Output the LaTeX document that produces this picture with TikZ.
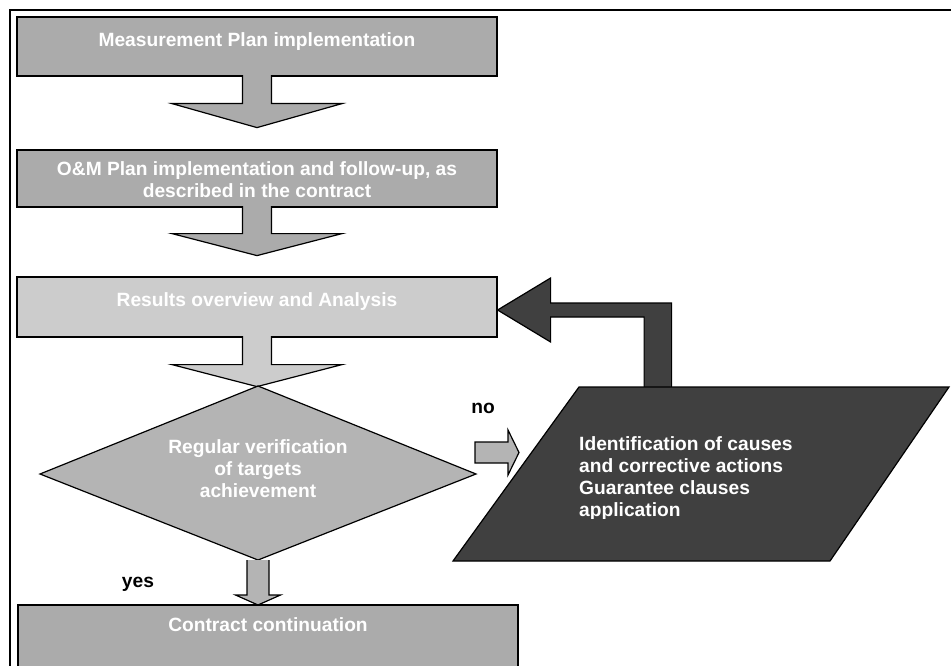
\documentclass[tikz,border=0pt]{standalone}
\usepackage{fontspec}
\setmainfont{Liberation Sans}
\usetikzlibrary{calc}
\definecolor{gA}{HTML}{ABABAB}
\definecolor{gB}{HTML}{CCCCCC}
\definecolor{gC}{HTML}{B4B4B4}
\definecolor{gD}{HTML}{404040}
\begin{document}
\begin{tikzpicture}[x=1pt,y=-1pt,
  outl/.style={draw=black,line width=1.2pt,line join=miter},
  boxA/.style={outl,fill=gA,rectangle,inner sep=0pt},
  boxB/.style={outl,fill=gB,rectangle,inner sep=0pt},
  arrA/.style={outl,fill=gA},
  arrB/.style={outl,fill=gB},
  arrC/.style={outl,fill=gC},
  arrD/.style={outl,fill=gD},
  txt/.style={font=\fontsize{19.2}{22}\selectfont\bfseries,inner sep=0pt},
  wtxt/.style={txt,text=white,align=center,anchor=north},
  btxt/.style={txt,text=black,anchor=base}
]
\useasboundingbox (0,0) rectangle (951,666);
\clip (0,0) rectangle (951,666);
% frame
\coordinate (fTR) at (955,10);
\coordinate (fTL) at (10,10);
\coordinate (fBL) at (10,680);
\draw[line width=1.5pt] (fTR) -- (fTL) -- (fBL);

% boxes
\node[boxA,minimum width=480pt,minimum height=59pt] (b1) at (257,46.5) {};
\node[boxA,minimum width=480pt,minimum height=57pt] (b2) at (257,178.5) {};
\node[boxB,minimum width=480pt,minimum height=60pt] (b3) at (257,307) {};
\node[boxA,minimum width=500pt,minimum height=95pt] (b4) at (268,652.5) {};

% down block arrows
\draw[arrA,shift={(b1.south)}] (-14.5,-1.5) -- (-14.5,27) -- (-85,27) -- (0,51) -- (85,27) -- (14.5,27) -- (14.5,-1.5);
\draw[arrA,shift={(b2.south)}] (-14.5,-1.5) -- (-14.5,26) -- (-85,26) -- (0,48) -- (85,26) -- (14.5,26) -- (14.5,-1.5);
\draw[arrB,shift={(b3.south)}] (-14.5,-1.5) -- (-14.5,27) -- (-85,27) -- (0,49) -- (85,27) -- (14.5,27) -- (14.5,-1.5);

% diamond
\coordinate (dT) at (258,386);
\coordinate (dR) at (476,474);
\coordinate (dB) at (258,560);
\coordinate (dL) at (40,474);
\draw[outl,fill=gC] (dT) -- (dR) -- (dB) -- (dL) -- cycle;

% yes arrow
\draw[arrC,shift={(dB)}] (-11,0) -- (-11,35) -- (-22.5,35) -- (0,45) -- (22.5,35) -- (11,35) -- (11,0);

% no arrow
\coordinate (noS) at (475,452.5);
\draw[arrC,shift={(noS)}] (0,-10.5) -- (33,-10.5) -- (33,-22.5) -- (44,0) -- (33,22.5) -- (33,10.5) -- (0,10.5) -- cycle;

% feedback arrow
\draw[arrD,shift={(b3.east)}] (146.5,81) -- (146.5,10) -- (53,10) -- (53,35) -- (0,3) -- (53,-29) -- (53,-4) -- (174,-4) -- (174,81);

% parallelogram
\coordinate (pTL) at (579,387);
\coordinate (pTR) at (949,387);
\coordinate (pBR) at (830,561);
\coordinate (pBL) at (453,561);
\draw[outl,fill=gD] (pTL) -- (pTR) -- (pBR) -- (pBL) -- cycle;

% texts
\node[wtxt] (t1) at (257,30.6) {\strut Measurement Plan implementation};
\node[wtxt] (t2) at (257,159.6) {\strut O\&M Plan implementation and follow-up, as\\\strut described in the contract};
\node[wtxt] (t3) at (257,290.6) {\strut Results overview and Analysis};
\node[wtxt] (t4) at (258,437.6) {\strut Regular verification\\\strut of targets\\\strut achievement};
\node[wtxt] (t6) at (268,615.6) {\strut Contract continuation};
\begin{scope}
\clip (560,420) rectangle (900,518.5);
\node[wtxt,anchor=north west,align=left] (t5) at (579,434.6) {\strut Identification of causes\\\strut and corrective actions\\\strut Guarantee clauses\\\strut application};
\end{scope}
\node[btxt] (lno) at (483,413) {no};
\node[btxt] (lyes) at (138,587) {yes};
\end{tikzpicture}
\end{document}
